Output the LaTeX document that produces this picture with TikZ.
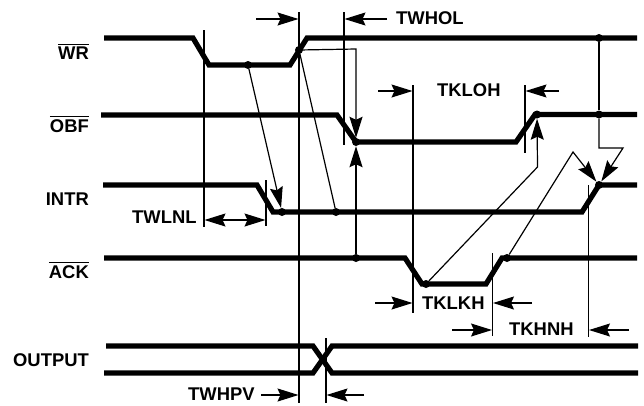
\documentclass[tikz,border=0pt]{standalone}
\usepackage{amsmath}
\usepackage{fontspec}
\setmainfont{Liberation Sans}
\usetikzlibrary{arrows.meta}
\tikzset{
  wave/.style={line width=5.2pt},
  tick/.style={line width=1.2pt},
  link/.style={line width=1.2pt},
  tipped/.style={line width=1.2pt,-{Stealth[length=21pt,width=13pt,inset=3pt]}},
  twotip/.style={line width=1.2pt,{Stealth[length=21pt,width=13pt,inset=3pt]}-{Stealth[length=21pt,width=13pt,inset=3pt]}},
  dotmark/.style={circle,fill=black,inner sep=0pt,minimum size=8pt},
  siglabel/.style={anchor=base east,inner sep=0pt,font=\fontsize{18.4}{20}\bfseries},
  timelabel/.style={anchor=base west,inner sep=0pt,font=\fontsize{18.4}{20}\bfseries}
}
\begin{document}
\begin{tikzpicture}[x=1pt,y=-1pt]
\useasboundingbox (0,0) rectangle (644,405);
\node [siglabel] (labwr) at (89,59) {$\overline{\text{WR}}$};
\node [siglabel] (labobf) at (89,132) {$\overline{\text{OBF}}$};
\node [siglabel] (labintr) at (89,205) {INTR};
\node [siglabel] (laback) at (89,278) {$\overline{\text{ACK}}$};
\node [siglabel] (labout) at (89,366) {OUTPUT};
\draw [wave] (104,38) -- (193,38) -- (209,65) -- (290,65) -- (307,38) -- (637,38);
\draw [wave] (101,115) -- (337,115) -- (356,142) -- (516,142) -- (535,114.5) -- (637,114.5);
\draw [wave] (103,185) -- (257,185) -- (273,212) -- (582,212) -- (599,185) -- (637,185);
\draw [wave] (104,258) -- (405,258) -- (422,284) -- (486,284) -- (502,258) -- (637,258);
\draw [wave] (106,346) -- (313,346) -- (332,373) -- (638,373);
\draw [wave] (104,373) -- (313,373) -- (332,346) -- (638,346);
\coordinate (ta) at (204,30);
\coordinate (tb) at (204,227);
\coordinate (tc) at (299,12);
\coordinate (td) at (299,403);
\coordinate (te) at (344,12);
\coordinate (tf) at (344,145);
\coordinate (tg) at (266,180);
\coordinate (th) at (266,226);
\coordinate (ti) at (413,85);
\coordinate (tj) at (413,313);
\coordinate (tk) at (525,85);
\coordinate (tl) at (525,153);
\coordinate (tm) at (588.5,185);
\coordinate (tn) at (588.5,337);
\coordinate (to) at (492.5,253);
\coordinate (tp) at (492.5,336);
\coordinate (tq) at (326,338);
\coordinate (tr) at (326,403);
\draw [tick] (ta) -- (tb);
\draw [tick] (tc) -- (td);
\draw [tick] (te) -- (tf);
\draw [tick] (tg) -- (th);
\draw [tick] (ti) -- (tj);
\draw [tick] (tk) -- (tl);
\draw [tick] (tm) -- (tn);
\draw [tick] (to) -- (tp);
\draw [tick] (tq) -- (tr);
\node [dotmark] (wrlow) at (248,65) {};
\node [dotmark] (wrrise) at (299,50) {};
\node [dotmark] (wrhigh) at (599,38) {};
\node [dotmark] (obflow) at (356,142) {};
\node [dotmark] (obfhigh) at (537,114.5) {};
\node [dotmark] (obfdrop) at (599,114.5) {};
\node [dotmark] (intrlow) at (282,212) {};
\node [dotmark] (intrmid) at (336,212) {};
\node [dotmark] (intrhigh) at (599,185) {};
\node [dotmark] (ackmid) at (356,258) {};
\node [dotmark] (acklow) at (426,284) {};
\node [dotmark] (ackhigh) at (507,258) {};
\coordinate (bendwr) at (356,49);
\coordinate (bendkl) at (537.5,167);
\coordinate (bendkh) at (573,152);
\coordinate (bendob) at (599,148);
\coordinate (bendin) at (623,148);
\draw [tipped] (wrlow) -- (intrlow);
\draw [link] (wrrise) -- (intrmid);
\draw [tipped] (wrrise) -- (bendwr) -- (obflow);
\draw [tipped] (ackmid) -- (obflow);
\draw [tipped] (acklow) -- (bendkl) -- (obfhigh);
\draw [tipped] (ackhigh) -- (bendkh) -- (intrhigh);
\draw [link] (wrhigh) -- (obfdrop);
\draw [tipped] (obfdrop) -- (bendob) -- (bendin) -- (intrhigh);
\node [timelabel] (twhol) at (396,24) {TWHOL};
\node [timelabel] (tkloh) at (437,96) {TKLOH};
\node [timelabel] (twlnl) at (132,223) {TWLNL};
\node [timelabel] (tklkh) at (422,309) {TKLKH};
\node [timelabel] (tkhnh) at (509,335) {TKHNH};
\node [timelabel] (twhpv) at (188,400) {TWHPV};
\coordinate (aa) at (256,19);
\coordinate (ab) at (298.5,19);
\coordinate (ac) at (387,19);
\coordinate (ad) at (344.5,19);
\coordinate (ae) at (378,91);
\coordinate (af) at (412.5,91);
\coordinate (ag) at (559,91);
\coordinate (ah) at (525.5,91);
\coordinate (ai) at (204.5,220);
\coordinate (aj) at (265.5,220);
\coordinate (ak) at (375,303);
\coordinate (al) at (412.5,303);
\coordinate (am) at (532,303);
\coordinate (an) at (493,303);
\coordinate (ao) at (452,330);
\coordinate (ap) at (492,330);
\coordinate (aq) at (629,330);
\coordinate (ar) at (589,330);
\coordinate (as) at (261,395);
\coordinate (at) at (298.5,395);
\coordinate (au) at (364,395);
\coordinate (av) at (326.5,395);
\draw [tipped] (aa) -- (ab);
\draw [tipped] (ac) -- (ad);
\draw [tipped] (ae) -- (af);
\draw [tipped] (ag) -- (ah);
\draw [twotip] (ai) -- (aj);
\draw [tipped] (ak) -- (al);
\draw [tipped] (am) -- (an);
\draw [tipped] (ao) -- (ap);
\draw [tipped] (aq) -- (ar);
\draw [tipped] (as) -- (at);
\draw [tipped] (au) -- (av);
\end{tikzpicture}
\end{document}
